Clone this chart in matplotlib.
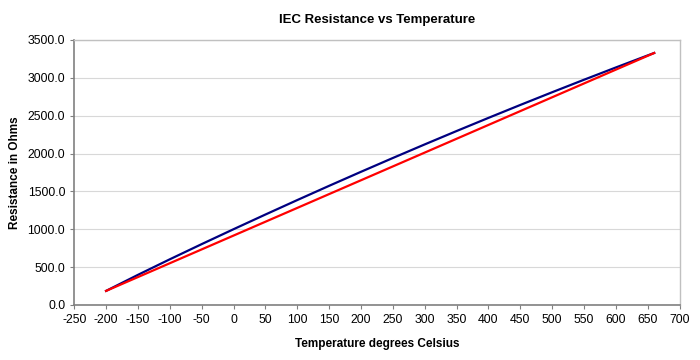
import matplotlib
matplotlib.use("Agg")
import matplotlib.pyplot as plt

plt.rcParams['font.family'] = ['Liberation Sans', 'DejaVu Sans']
plt.rcParams['axes.unicode_minus'] = False

# IEC curve (blue)
temp = [-200, -150, -100, -50, 0, 50, 100, 150, 200, 250, 300, 350,
        400, 450, 500, 550, 600, 650, 660]
res_iec = [185.2, 397.2, 602.6, 803.1, 1000.0, 1194.0, 1385.1, 1573.3,
           1758.6, 1941.0, 2120.5, 2297.2, 2470.9, 2641.8, 2809.8,
           2974.9, 3137.1, 3296.4, 3327.9]

# straight line (red) between the end points
temp_lin = [-200, 660]
res_lin = [185.2, 3327.9]

xticks = list(range(-250, 701, 50))
yticks = [0, 500, 1000, 1500, 2000, 2500, 3000, 3500]

fig = plt.figure(figsize=(7, 3.6), dpi=100)
ax = fig.add_axes([0.106, 0.153, 0.865, 0.736])

ax.plot(temp, res_iec, color='#000080', lw=1.6, zorder=3)
ax.plot(temp_lin, res_lin, color='#ff0000', lw=1.6, zorder=4)

ax.set_xlim(-250, 700)
ax.set_ylim(0, 3500)
ax.set_xticks(xticks)
ax.set_yticks(yticks)
ax.set_yticklabels([f'{v:.1f}' for v in yticks])
ax.tick_params(labelsize=8.8, length=3, color='#808080')
ax.grid(axis='y', color='#d8d8d8', lw=0.8)
ax.set_axisbelow(True)

for side in ['left', 'bottom']:
    ax.spines[side].set_color('#808080')
    ax.spines[side].set_linewidth(1.2)
for side in ['top', 'right']:
    ax.spines[side].set_color('#c0c0c0')
    ax.spines[side].set_linewidth(1.0)

ax.set_title('IEC Resistance vs Temperature', fontsize=9.5, fontweight='bold', pad=12)
ax.set_xlabel('Temperature degrees Celsius', fontsize=8.5, fontweight='bold', labelpad=9)
ax.set_ylabel('Resistance in Ohms', fontsize=8.5, fontweight='bold', labelpad=5)

fig.savefig('out.png', dpi=100)
